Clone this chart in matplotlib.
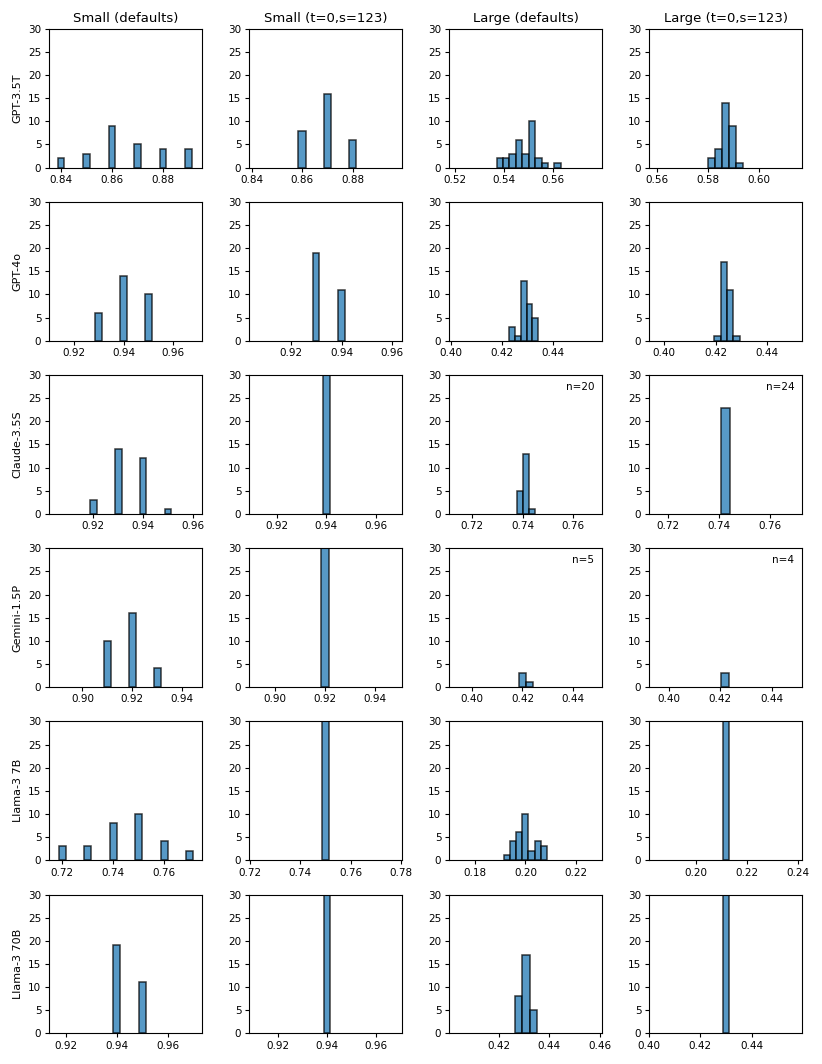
"""Grid of score histograms: 6 models x 4 run configurations (30 runs each)."""
import numpy as np
import matplotlib
matplotlib.use("Agg")
import matplotlib.pyplot as plt
from matplotlib.ticker import MultipleLocator, FormatStrFormatter

OUT = "out.png"

MODELS = ["GPT-3.5T", "GPT-4o", "Claude-3.5S", "Gemini-1.5P", "Llama-3 7B", "Llama-3 70B"]
CONFIGS = ["Small (defaults)", "Small (t=0,s=123)", "Large (defaults)", "Large (t=0,s=123)"]

# bin centres / counts per model, one list per configuration
SMALL_DEF_X = [[0.84, 0.85, 0.86, 0.87, 0.88, 0.89], [0.93, 0.94, 0.95],
               [0.92, 0.93, 0.94, 0.95], [0.91, 0.92, 0.93],
               [0.72, 0.73, 0.74, 0.75, 0.76, 0.77], [0.94, 0.95]]
SMALL_DEF_N = [[2, 3, 9, 5, 4, 4], [6, 14, 10], [3, 14, 12, 1], [10, 16, 4],
               [3, 3, 8, 10, 4, 2], [19, 11]]
SMALL_T0_X = [[0.86, 0.87, 0.88], [0.93, 0.94], [0.94], [0.92], [0.75], [0.94]]
SMALL_T0_N = [[8, 16, 6], [19, 11], [30], [30], [30], [30]]
LARGE_DEF_X = [[0.5382, 0.5408, 0.5434, 0.5460, 0.5486, 0.5513, 0.5539, 0.5565, 0.5617],
               [0.4240, 0.4263, 0.4286, 0.4309, 0.4332],
               [0.7388, 0.7413, 0.7438],
               [0.4202, 0.4229],
               [0.1927, 0.1951, 0.1976, 0.2000, 0.2024, 0.2049, 0.2073],
               [0.4278, 0.4308, 0.4338]]
LARGE_DEF_N = [[2, 2, 3, 6, 3, 10, 2, 1, 1], [3, 1, 13, 8, 5], [5, 13, 1], [3, 1],
               [1, 4, 6, 10, 2, 4, 3], [8, 17, 5]]
LARGE_T0_X = [[0.5815, 0.5842, 0.5869, 0.5896, 0.5923],
              [0.4208, 0.4233, 0.4257, 0.4282],
              [0.7426], [0.4217], [0.2118], [0.4300]]
LARGE_T0_N = [[2, 4, 14, 9, 1], [1, 17, 11, 1], [23], [3], [30], [30]]

# bin widths
SMALL_DEF_W = [0.0026, 0.0028, 0.0027, 0.0027, 0.0027, 0.0027]
SMALL_T0_W = [0.0030, 0.0026, 0.0028, 0.0028, 0.0027, 0.0028]
LARGE_DEF_W = [0.0026, 0.0023, 0.00245, 0.00275, 0.00243, 0.0030]
LARGE_T0_W = [0.0027, 0.00245, 0.0037, 0.0030, 0.0026, 0.0027]

# x ranges
SMALL_DEF_LIM = [(0.8353, 0.8953), (0.9099, 0.9717), (0.9022, 0.9637),
                 (0.8866, 0.9480), (0.7148, 0.7748), (0.9133, 0.9735)]
SMALL_T0_LIM = [(0.8389, 0.8996), (0.9036, 0.9638), (0.9089, 0.9705),
                (0.8897, 0.9507), (0.7196, 0.7805), (0.9081, 0.9707)]
LARGE_DEF_LIM = [(0.5174, 0.5799), (0.3993, 0.4594), (0.7109, 0.7713),
                 (0.3910, 0.4514), (0.1698, 0.2303), (0.4002, 0.4609)]
LARGE_T0_LIM = [(0.5570, 0.6168), (0.3940, 0.4538), (0.7124, 0.7726),
                (0.3922, 0.4518), (0.1815, 0.2417), (0.3999, 0.4597)]

# valid-run counts shown when fewer than 30
LARGE_DEF_NOTE = [None, None, 20, 5, None, None]
LARGE_T0_NOTE = [None, None, 24, 4, None, None]
SMALL_NOTE = [None] * 6


def main():
    cols = [
        (SMALL_DEF_X, SMALL_DEF_N, SMALL_DEF_W, SMALL_DEF_LIM, SMALL_NOTE),
        (SMALL_T0_X, SMALL_T0_N, SMALL_T0_W, SMALL_T0_LIM, SMALL_NOTE),
        (LARGE_DEF_X, LARGE_DEF_N, LARGE_DEF_W, LARGE_DEF_LIM, LARGE_DEF_NOTE),
        (LARGE_T0_X, LARGE_T0_N, LARGE_T0_W, LARGE_T0_LIM, LARGE_T0_NOTE),
    ]
    fig, axes = plt.subplots(6, 4, figsize=(8.22, 10.64), dpi=100)
    fig.subplots_adjust(left=0.0596, right=0.9757, top=0.9727, bottom=0.0291,
                        wspace=0.307, hspace=0.25)

    for c, (xs, ns, ws, lims, notes) in enumerate(cols):
        for r in range(6):
            ax = axes[r, c]
            ax.bar(xs[r], ns[r], width=ws[r], color="#1f77b4", alpha=0.75,
                   edgecolor="black", linewidth=1.1)
            ax.set_xlim(*lims[r])
            ax.set_ylim(0, 30)
            ax.set_yticks(range(0, 31, 5))
            ax.xaxis.set_major_locator(MultipleLocator(0.02))
            ax.xaxis.set_major_formatter(FormatStrFormatter("%.2f"))
            ax.tick_params(labelsize=7.5, length=3, width=0.8, pad=2.5)
            for s in ax.spines.values():
                s.set_linewidth(0.8)
            if notes[r] is not None:
                ax.text(0.95, 0.95, f"n={notes[r]}", transform=ax.transAxes,
                        ha="right", va="top", fontsize=7.5)
            if r == 0:
                ax.set_title(CONFIGS[c], fontsize=9.5, pad=5)
            if c == 0:
                ax.set_ylabel(MODELS[r], fontsize=8)

    fig.savefig(OUT, dpi=100)
    print(f"saved {OUT}")


if __name__ == "__main__":
    main()
